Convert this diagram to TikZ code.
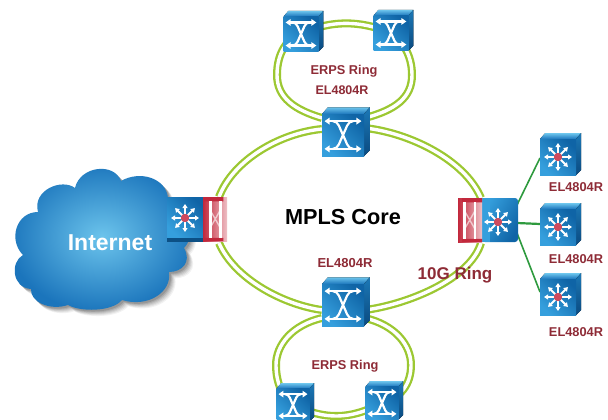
\documentclass[tikz,border=0pt]{standalone}
\usepackage{fontspec}
\setmainfont{Liberation Sans}
\usetikzlibrary{arrows.meta}
\definecolor{ringgreen}{HTML}{9CC832}
\definecolor{leafgreen}{HTML}{2E9A3E}
\definecolor{labelred}{HTML}{8E2B36}
\definecolor{faceA}{HTML}{359FDD}
\definecolor{faceB}{HTML}{0F64A6}
\definecolor{topA}{HTML}{6CC4EC}
\definecolor{topB}{HTML}{1B75BC}
\definecolor{sideA}{HTML}{1C78B6}
\definecolor{sideB}{HTML}{0A4A80}
\definecolor{redA}{HTML}{C2283C}
\definecolor{redB}{HTML}{EEC0C6}
\definecolor{dotred}{HTML}{CF4A5E}
\tikzset{
  anchorbox/.style={minimum width=#1,minimum height=#1,inner sep=0pt,outer sep=0pt},
  ring/.style={draw=ringgreen,line width=2.3pt,double=white,double distance=3.4pt},
  leafline/.style={draw=leafgreen,line width=1.6pt},
  glyph/.style={draw=white,line width=2.2pt,line cap=round,line join=round},
  tipped/.style={glyph,{Triangle[width=6.5pt,length=5pt]}-{Triangle[width=6.5pt,length=5pt]}},
  lab/.style={text=labelred,font=\bfseries\fontsize{#1}{#1}\selectfont,inner sep=0pt},
}
\newcommand{\boxbody}[3]{% cx cy size
  \begin{scope}[shift={(#1,#2)},x=#3*1pt,y=-#3*1pt]
    \fill[top color=topA,bottom color=topB] (-.5,-.5) -- (-.36,-.66) -- (.64,-.66) -- (.5,-.5) -- cycle;
    \fill[top color=sideA,bottom color=sideB] (.5,-.5) -- (.64,-.66) -- (.64,.36) -- (.5,.5) -- cycle;
    \shade[left color=faceA,right color=faceB,shading angle=135] (-.5,-.5) rectangle (.5,.5);
  \end{scope}}
\newcommand{\xswitch}[3]{% cx cy size
  \boxbody{#1}{#2}{#3}
  \begin{scope}[shift={(#1,#2)},x=#3*1pt,y=-#3*1pt]
    \draw[tipped] (-.44,-.33) -- (.44,-.33);
    \draw[tipped] (-.44,.33) -- (.44,.33);
    \draw[glyph] (-.24,-.33) .. controls (-.1,-.33) and (-.08,-.15) .. (0,0) .. controls (.08,.15) and (.1,.33) .. (.24,.33);
    \draw[glyph] (.24,-.33) .. controls (.1,-.33) and (.08,-.15) .. (0,0) .. controls (-.08,.15) and (-.1,.33) .. (-.24,.33);
  \end{scope}}
\newcommand{\starglyph}[3]{% cx cy radius
  \begin{scope}[shift={(#1,#2)}]
    \foreach \a in {0,45,...,315}
      \draw[draw=white,line width=1.8pt,-{Triangle[width=5pt,length=4pt]}] (0,0) -- ++(\a:#3);
    \fill[dotred] (0,0) circle (4.2);
  \end{scope}}
\newcommand{\starswitch}[3]{%
  \boxbody{#1}{#2}{#3}
  \starglyph{#1}{#2}{14}}
\newcommand{\redunit}[4]{% x0 y0 w h
  \begin{scope}[shift={(#1,#2)},x=#3*1pt,y=-#4*1pt]
    \shade[left color=redA,right color=redB] (0,0) rectangle (1,1);
    \fill[redA] (0,0) rectangle (.85,.1) (0,.93) rectangle (.85,1);
    \draw[white,opacity=.6,line width=1.4pt] (.3,.3) -- (.72,.7) (.72,.3) -- (.3,.7);
    \draw[white,line width=2.6pt] (.3,.1) -- (.3,.93) (.72,.1) -- (.72,.93);
  \end{scope}}
\newcommand{\cloudpath}{(75,188)
  .. controls (80,166) and (114,162) .. (121,181)
  .. controls (140,170) and (166,178) .. (168,198)
  .. controls (190,208) and (196,236) .. (184,248)
  .. controls (192,262) and (182,272) .. (169,272)
  .. controls (172,292) and (148,308) .. (122,300)
  .. controls (112,312) and (80,312) .. (68,305)
  .. controls (50,311) and (30,302) .. (31,289)
  .. controls (12,288) and (10,262) .. (23,255)
  .. controls (8,240) and (16,212) .. (38,212)
  .. controls (32,190) and (62,178) .. (75,188) -- cycle}
\begin{document}
\begin{tikzpicture}[x=1pt,y=-1pt]
\useasboundingbox (0,0) rectangle (608,420);
\clip (0,0) rectangle (608,420);
\fill[white] (0,0) rectangle (608,420);
% anchors
\node[anchorbox=35pt] (tl) at (301,34) {};
\node[anchorbox=35pt] (tr) at (391,33) {};
\node[anchorbox=42pt] (ctop) at (343,135) {};
\node[anchorbox=42pt] (cbot) at (343,305) {};
\node[anchorbox=33pt] (bl) at (293,405) {};
\node[anchorbox=33pt] (br) at (382,403) {};
\node[anchorbox=44pt] (west) at (197,220) {};
\node[anchorbox=44pt] (east) at (488,220) {};
\node[anchorbox=36pt] (l1) at (558,157) {};
\node[anchorbox=36pt] (l2) at (558,227) {};
\node[anchorbox=36pt] (l3) at (558,297) {};
\coordinate (cnw) at (322,118); \coordinate (cw) at (322,129);
\coordinate (cne) at (365,118); \coordinate (ce) at (365,128);
\coordinate (bsw) at (322,318); \coordinate (bw) at (322,310);
\coordinate (bse) at (365,318); \coordinate (be) at (365,310);
\coordinate (wn) at (219,197); \coordinate (ws) at (219,243);
\coordinate (en) at (481,198); \coordinate (es) at (481,243);
% cloud
\foreach \s/\o in {7/.05,6/.06,5/.07,4/.08,3/.1,2/.12}
  \fill[black,opacity=\o,shift={(\s*.9,\s*.9)}] \cloudpath;
\shade[inner color=topA,outer color=topB] \cloudpath;
\node[text=white,font=\bfseries\fontsize{23}{23}\selectfont,inner sep=0pt] (inet) at (110,243) {Internet};
% rings
\draw[ring] (cw) .. controls (280,133) and (233,160) .. (wn);
\draw[ring] (ws) .. controls (235,280) and (285,305) .. (bw);
\draw[ring] (ce) .. controls (410,133) and (465,160) .. (en);
\draw[ring] (es) .. controls (470,280) and (405,305) .. (be);
\draw[ring] (cnw) .. controls (295,110) and (277,98) .. (277,75) .. controls (277,52) and (288,38) .. (tl.center);
\draw[ring] (tl.center) .. controls (330,20) and (360,20) .. (tr.center);
\draw[ring] (tr.center) .. controls (402,40) and (412,55) .. (412,75) .. controls (412,98) and (395,110) .. (cne);
\draw[ring] (bsw) .. controls (292,325) and (276,345) .. (276,365) .. controls (276,385) and (284,398) .. (bl.center);
\draw[ring] (bl.center) .. controls (325,420) and (350,420) .. (br.center);
\draw[ring] (br.center) .. controls (400,398) and (411,385) .. (411,365) .. controls (411,345) and (395,325) .. (bse);
% leaf links
\draw[leafline] ([xshift=7pt,yshift=15pt]east.east) -- ([yshift=-1pt]l1.west);
\draw[leafline,line width=2.2pt] ([xshift=7pt,yshift=-3pt]east.east) -- ([yshift=3pt]l2.west);
\draw[leafline] ([xshift=7pt,yshift=-13pt]east.east) -- ([yshift=5pt]l3.west);
% devices
\xswitch{301}{34}{35}
\xswitch{391}{33}{35}
\xswitch{343}{135}{42}
\xswitch{343}{305}{42}
\xswitch{293}{405}{33}
\xswitch{382}{403}{33}
\starswitch{558}{157}{36}
\starswitch{558}{227}{36}
\starswitch{558}{297}{36}
\fill[faceB!80!black] (167,197) rectangle (204,242);
\shade[left color=faceA,right color=faceB,shading angle=135] (167,197) rectangle (204,237);
\starglyph{185}{218}{14}
\redunit{203}{197}{24}{44}
\shade[left color=faceA,right color=faceB,shading angle=60,rounded corners=3pt] (482,198) rectangle (518,242);
\fill[faceA] (482,198) rectangle (490,242);
\starglyph{498}{222}{14}
\begin{scope}[xscale=-1,shift={(-940,0)}]\redunit{458}{198}{24}{44}\end{scope}
% labels
\node[font=\bfseries\fontsize{21.7}{21.7}\selectfont,inner sep=0pt] (mpls) at (343,217) {MPLS Core};
\node[lab=12.8] (r1) at (344,71) {ERPS Ring};
\node[lab=12.5] (e1) at (342,90) {EL4804R};
\node[lab=13] (e2) at (345,263) {EL4804R};
\node[lab=12.8] (r2) at (345,366) {ERPS Ring};
\node[lab=17] (g) at (455,275) {10G Ring};
\node[lab=12.8] (e3) at (576,187) {EL4804R};
\node[lab=12.8] (e4) at (576,259) {EL4804R};
\node[lab=12.8] (e5) at (576,332) {EL4804R};
\end{tikzpicture}
\end{document}
